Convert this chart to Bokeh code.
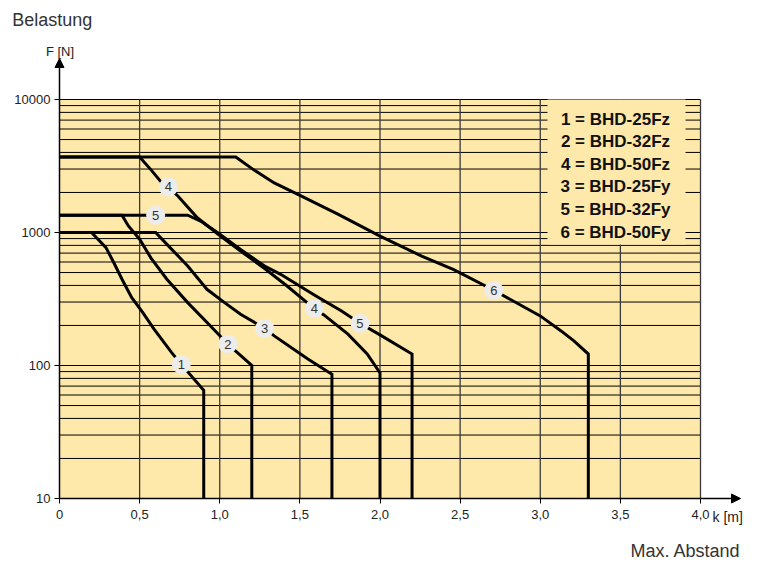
from bokeh.plotting import figure
from bokeh.models import (FixedTicker, Label, Arrow, NormalHead, ColumnDataSource,
                          LinearAxis, LogAxis)
from bokeh.core.properties import value
from bokeh.embed import file_html
from bokeh.resources import INLINE

# ---------------- data ----------------
k1 = [0, 0.20, 0.29, 0.34, 0.39, 0.45, 0.52, 0.59, 0.70, 0.76, 0.90, 0.90]
f1 = [1000, 1000, 770, 590, 445, 325, 250, 188, 125, 102, 65, 10]

k2 = [0, 0.39, 0.43, 0.50, 0.57, 0.67, 0.80, 0.93, 1.05, 1.11, 1.20, 1.20]
f2 = [1350, 1350, 1120, 890, 645, 445, 297, 205, 145, 125, 100, 10]

k3 = [0, 0.60, 0.69, 0.80, 0.92, 1.03, 1.13, 1.28, 1.34, 1.55, 1.70, 1.70]
f3 = [1000, 1000, 770, 560, 374, 297, 243, 190, 167, 112, 86, 10]

k4 = [0, 0.50, 0.57, 0.63, 0.68, 0.74, 0.86, 0.99, 1.13, 1.28, 1.42, 1.59, 1.65, 1.80, 1.92, 2.00, 2.00]
f4 = [3700, 3700, 2970, 2430, 2200, 1875, 1290, 970, 725, 536, 396, 268, 240, 172, 122, 88, 10]

k5 = [0, 0.60, 0.80, 0.89, 0.99, 1.13, 1.28, 1.38, 1.59, 1.76, 1.875, 2.00, 2.20, 2.20]
f5 = [1350, 1350, 1350, 1200, 990, 745, 560, 485, 339, 257, 208, 170, 122, 10]

k6 = [0, 1.10, 1.21, 1.34, 1.51, 1.74, 2.00, 2.26, 2.46, 2.71, 3.00, 3.13, 3.21, 3.30, 3.30]
f6 = [3700, 3700, 2970, 2360, 1875, 1370, 940, 665, 525, 368, 236, 182, 153, 122, 10]

label_text = ["1", "2", "3", "4", "4", "5", "5", "6"]
label_k = [0.76, 1.05, 1.28, 0.68, 1.59, 0.60, 1.875, 2.71]
label_f = [102, 145, 190, 2200, 268, 1350, 208, 368]

legend_lines = ["1 = BHD-25Fz", "2 = BHD-32Fz", "4 = BHD-50Fz",
                "3 = BHD-25Fy", "5 = BHD-32Fy", "6 = BHD-50Fy"]

x_ticks = [0, 0.5, 1.0, 1.5, 2.0, 2.5, 3.0, 3.5, 4.0]
x_tick_labels = ["0", "0,5", "1,0", "1,5", "2,0", "2,5", "3,0", "3,5", "4,0"]
y_ticks = [10, 100, 1000, 10000]
y_tick_labels = ["10", "100", "1000", "10000"]
y_minor = [m * 10 ** e for e in (1, 2, 3) for m in range(2, 10)]

# ---------------- layout (pixel geometry of the chart area) ----------------
W, H = 758, 562
PX_LEFT, PX_RIGHT, PX_TOP, PX_BOTTOM = 59, 700, 99, 498
px_k = (PX_RIGHT - PX_LEFT) / 4.0
px_dec = (PX_BOTTOM - PX_TOP) / 3.0

def X(px):
    return (px - PX_LEFT) / px_k

def Y(py):
    return 10 ** (4 - (py - PX_TOP) / px_dec)

BG = "#FEE8AA"
FONT = "Liberation Sans"

p = figure(width=W, height=H, x_range=(X(0), X(W)), y_range=(Y(H), Y(0)),
           y_axis_type="log", x_axis_location=None, y_axis_location=None,
           output_backend="svg", toolbar_location=None,
           min_border_left=0, min_border_right=0, min_border_top=0, min_border_bottom=0)
p.background_fill_color = "white"
p.border_fill_color = "white"
p.outline_line_color = None
p.xgrid.visible = False
p.ygrid.visible = False

# chart area
p.quad(left=x_ticks[0], right=x_ticks[-1], bottom=y_ticks[0], top=y_ticks[-1],
       fill_color=BG, line_color=None)

# grid lines
hy = y_ticks[1:] + y_minor
p.segment(x0=[x_ticks[0]] * len(hy), x1=[x_ticks[-1]] * len(hy), y0=hy, y1=hy,
          line_color="black", line_width=1)
vx = x_ticks[1:]
p.segment(x0=vx, x1=vx, y0=[y_ticks[0]] * len(vx), y1=[y_ticks[-1]] * len(vx),
          line_color="#3a3a3a", line_width=1.3)

# legend box (covers grid)
p.quad(left=X(547), right=X(685), top=Y(PX_TOP), bottom=Y(244),
       fill_color=BG, line_color=None)

# curves
for ks, fs in ((k1, f1), (k2, f2), (k3, f3), (k4, f4), (k5, f5), (k6, f6)):
    p.line(ks, fs, line_width=3, line_color="black", line_join="miter")

# numbered circles
src = ColumnDataSource(dict(k=label_k, f=label_f, t=label_text))
p.scatter("k", "f", source=src, size=19, fill_color="#ECECEC", line_color=None)
p.text("k", "f", text="t", source=src, text_align="center", text_baseline="middle",
       text_font=value(FONT), text_font_size="13px", text_color="#333333")

# legend text
leg_k = [X(615)] * len(legend_lines)
leg_f = [Y(118.5 + 22.6 * i) for i in range(len(legend_lines))]
p.text(leg_k, leg_f, text=legend_lines, text_align="center", text_baseline="middle",
       text_font=value(FONT), text_font_size="17px", text_font_style="bold",
       text_color="#111111")

# axes pinned at the data origin
xaxis = LinearAxis(fixed_location=y_ticks[0], bounds=(x_ticks[0], x_ticks[-1]),
                   ticker=FixedTicker(ticks=x_ticks))
xaxis.major_label_overrides = {t: l for t, l in zip(x_ticks, x_tick_labels)}
yaxis = LogAxis(fixed_location=x_ticks[0], bounds=(y_ticks[0], y_ticks[-1]),
                ticker=FixedTicker(ticks=y_ticks))
yaxis.major_label_overrides = {t: l for t, l in zip(y_ticks, y_tick_labels)}
for ax in (xaxis, yaxis):
    ax.axis_line_color = "black"
    ax.axis_line_width = 1.5
    ax.major_tick_line_color = "black"
    ax.major_tick_line_width = 1
    ax.major_tick_out = 5
    ax.major_tick_in = 0
    ax.minor_tick_line_color = None
    ax.major_label_text_font = FONT
    ax.major_label_text_font_size = "13px"
    ax.major_label_text_color = "#222222"
xaxis.major_label_standoff = 6
yaxis.major_label_standoff = 4
p.add_layout(xaxis, "below")
p.add_layout(yaxis, "left")

# axis arrows
p.add_layout(Arrow(end=NormalHead(size=9, fill_color="black", line_color="black"),
                   x_start=x_ticks[0], y_start=y_ticks[-1], x_end=x_ticks[0], y_end=Y(58),
                   line_width=1.5, line_color="black"))
p.add_layout(Arrow(end=NormalHead(size=9, fill_color="black", line_color="black"),
                   x_start=x_ticks[-1], y_start=y_ticks[0], x_end=X(740), y_end=y_ticks[0],
                   line_width=1.5, line_color="black"))

# texts around the chart
p.add_layout(Label(x=X(11.7), y=Y(19), text="Belastung", text_align="left",
                   text_baseline="middle", text_font=FONT, text_font_size="18px",
                   text_color="#333333"))
p.add_layout(Label(x=X(59.5), y=Y(51), text="F [N]", text_align="center",
                   text_baseline="middle", text_font=FONT, text_font_size="13px",
                   text_color="#222222"))
p.add_layout(Label(x=X(712), y=Y(516), text="k [m]", text_align="left",
                   text_baseline="middle", text_font=FONT, text_font_size="14px",
                   text_color="#222222"))
p.add_layout(Label(x=X(740), y=Y(550), text="Max. Abstand", text_align="right",
                   text_baseline="middle", text_font=FONT, text_font_size="18px",
                   text_color="#333333"))

open("out.html", "w").write(file_html(p, INLINE))
